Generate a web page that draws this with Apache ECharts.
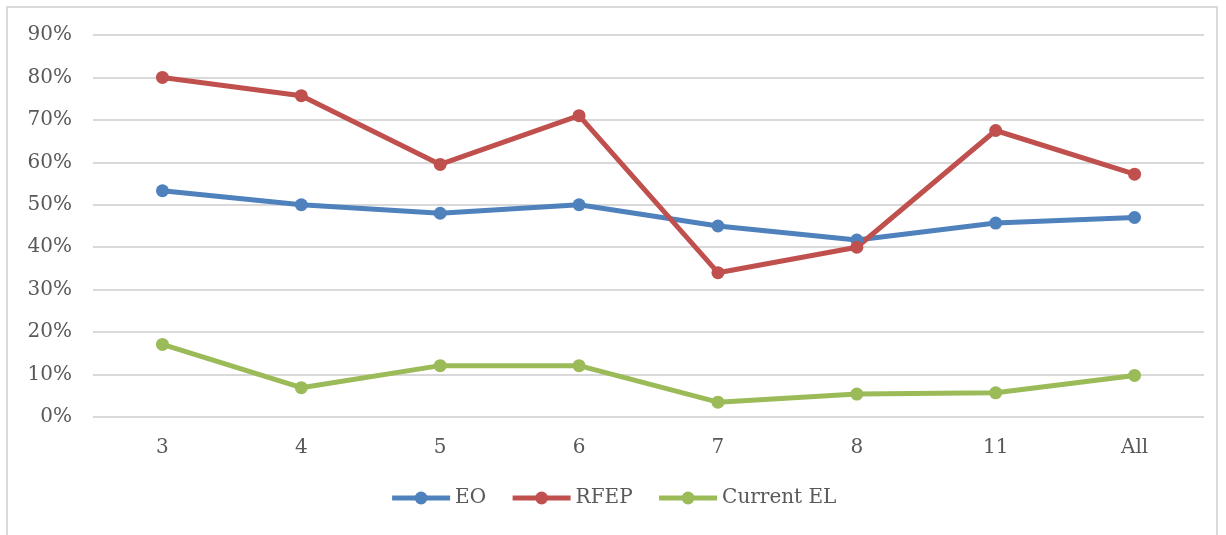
<!DOCTYPE html>
<html>
<head>
<meta charset="utf-8">
<script src="https://cdn.jsdelivr.net/npm/echarts@6/dist/echarts.min.js"></script>
<style>
  html, body { margin: 0; padding: 0; background: #fff; }
  #chart { width: 1226px; height: 535px; }
  .frame {
    position: absolute; left: 6px; top: 6px; width: 1212px; height: 540px;
    border: 2px solid #d9d9d9; box-sizing: border-box; pointer-events: none;
  }
</style>
</head>
<body>
<div id="chart"></div>
<div class="frame"></div>
<script>
const categories = ['3', '4', '5', '6', '7', '8', '11', 'All']
const eo = [53.3, 50, 48, 50, 45, 41.7, 45.7, 47]
const rfep = [80, 75.7, 59.5, 71, 34, 40, 67.5, 57.2]
const currentEl = [17.1, 6.9, 12.1, 12.1, 3.5, 5.4, 5.7, 9.8]

const font = 'DejaVu Serif'
const textColor = '#595959'

function lineSeries(name, data, color) {
  return {
    name,
    type: 'line',
    data,
    symbol: 'circle',
    symbolSize: 13,
    lineStyle: { color, width: 5 },
    itemStyle: { color },
    emphasis: { disabled: true }
  }
}

const chart = echarts.init(document.getElementById('chart'))
chart.setOption({
  animation: false,
  grid: { left: 93, right: 22, top: 35, bottom: 118 },
  legend: {
    bottom: 22,
    itemWidth: 58,
    itemHeight: 16,
    itemGap: 24,
    lineStyle: { width: 5 },
    textStyle: { color: textColor, fontFamily: font, fontSize: 20 },
    data: ['EO', 'RFEP', 'Current EL']
  },
  xAxis: {
    type: 'category',
    data: categories,
    axisLine: { show: false },
    axisTick: { show: false },
    axisLabel: { color: textColor, fontFamily: font, fontSize: 20, margin: 21 }
  },
  yAxis: {
    type: 'value',
    min: 0,
    max: 90,
    interval: 10,
    axisLine: { show: false },
    axisTick: { show: false },
    axisLabel: {
      color: textColor, fontFamily: font, fontSize: 20, margin: 21,
      formatter: v => v + '%'
    },
    splitLine: { lineStyle: { color: '#d9d9d9', width: 2 } }
  },
  series: [
    lineSeries('EO', eo, '#4f81bd'),
    lineSeries('RFEP', rfep, '#c0504d'),
    lineSeries('Current EL', currentEl, '#9bbb59')
  ]
})
</script>
</body>
</html>
